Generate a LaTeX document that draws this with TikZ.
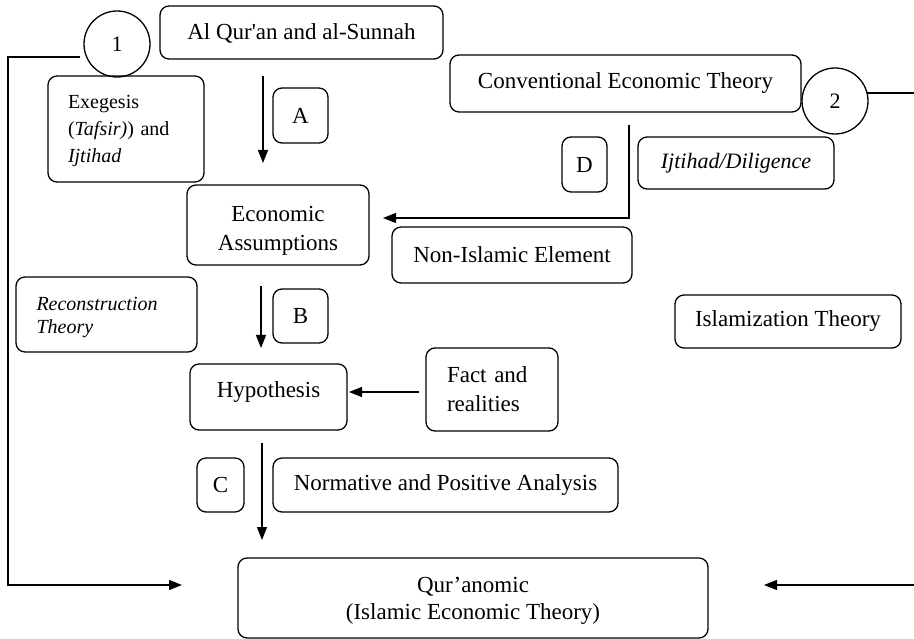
\documentclass[tikz,border=0pt]{standalone}
\usepackage{fontspec}
\setmainfont{Liberation Serif}[Ligatures=TeXOff]
\usetikzlibrary{arrows.meta}
\begin{document}
\begin{tikzpicture}[x=1pt,y=-1pt,
  box/.style={draw, rounded corners=9pt, line width=1.3pt, inner sep=0pt, align=center,
    font=\fontsize{23}{29}\selectfont},
  circ/.style={draw, circle, line width=1.3pt, minimum size=66pt, inner sep=0pt,
    font=\fontsize{22}{24}\selectfont},
  conn/.style={line width=1.3pt},
  arr/.style={line width=1.3pt, -{Triangle[length=13pt,width=10pt]}}]
\useasboundingbox (0,0) rectangle (914,639);
% nodes
\node[circ] (c1) at (117,44) {1};
\node[box, minimum width=283pt, minimum height=53pt, text height=18pt, text depth=3pt] (quran) at (301.5,32.5) {Al Qur'an and al-Sunnah};
\node[box, minimum width=156pt, minimum height=106pt, text width=116pt, align=left, text height=18pt,
  font=\fontsize{20}{27}\selectfont] (exeg) at (126,129)
  {Exegesis\\(\textit{Tafsir)}) and\\\textit{Ijtihad}};
\node[box, minimum width=55pt, minimum height=55pt] (A) at (300.5,115.5) {A};
\node[box, minimum width=351pt, minimum height=57pt] (conv) at (625.5,83.5) {Conventional Economic Theory};
\node[circ] (c2) at (835,101) {2};
\node[box, minimum width=45pt, minimum height=55pt] (D) at (584.5,164.5) {D};
\node[box, minimum width=196pt, minimum height=52pt, font=\fontsize{22}{28}\selectfont\itshape] (ijt) at (736,163) {Ijtihad/Diligence};
\node[box, minimum width=182pt, minimum height=80pt, text height=55pt] (econ) at (278,225) {Economic\\Assumptions};
\node[box, minimum width=240pt, minimum height=56pt] (nonis) at (512,255) {Non-Islamic Element};
\node[box, minimum width=181pt, minimum height=75pt, text width=140pt, align=left, text height=20pt,
  font=\fontsize{20}{23}\selectfont\itshape] (recon) at (106.5,314.5)
  {Reconstruction\\Theory};
\node[box, minimum width=55pt, minimum height=54pt] (B) at (300.5,316) {B};
\node[box, minimum width=157pt, minimum height=66pt, text depth=14pt] (hyp) at (268.5,397) {Hypothesis};
\node[box, minimum width=132pt, minimum height=83pt, text width=90pt, align=left] (fact) at (492,389.5)
  {Fact and\\realities};
\node[box, minimum width=226pt, minimum height=53pt] (islam) at (788,321.5) {Islamization Theory};
\node[box, minimum width=47pt, minimum height=54pt] (C) at (220.5,485) {C};
\node[box, minimum width=345pt, minimum height=54pt] (norm) at (445.5,485) {Normative and Positive Analysis};
\node[box, minimum width=470pt, minimum height=80pt, text height=48pt, font=\fontsize{23}{27}\selectfont] (qe) at (473,598) {Qur’anomic\\(Islamic Economic Theory)};
% coordinates
\coordinate (a1) at (263,76); \coordinate (a2) at (263,163);
\coordinate (b1) at (261,286); \coordinate (b2) at (261,348);
\coordinate (k1) at (262,443); \coordinate (k2) at (262,540);
\coordinate (d1) at (629,125); \coordinate (d2) at (629,218); \coordinate (d3) at (383,218);
\coordinate (f1) at (419,392); \coordinate (f2) at (349,392);
\coordinate (l1) at (80,57); \coordinate (l2) at (8,57); \coordinate (l3) at (8,585); \coordinate (l4) at (182,585);
\coordinate (r0) at (867,93); \coordinate (r1) at (914,93);
\coordinate (r2) at (914,585); \coordinate (r3) at (764,585);
% connectors
\draw[arr] (a1) -- (a2);
\draw[arr] (b1) -- (b2);
\draw[arr] (k1) -- (k2);
\draw[arr] (d1) -- (d2) -- (d3);
\draw[arr] (f1) -- (f2);
\draw[arr] (l1) -- (l2) -- (l3) -- (l4);
\draw[conn] (r0) -- (r1);
\draw[arr] (r2) -- (r3);
\end{tikzpicture}
\end{document}
